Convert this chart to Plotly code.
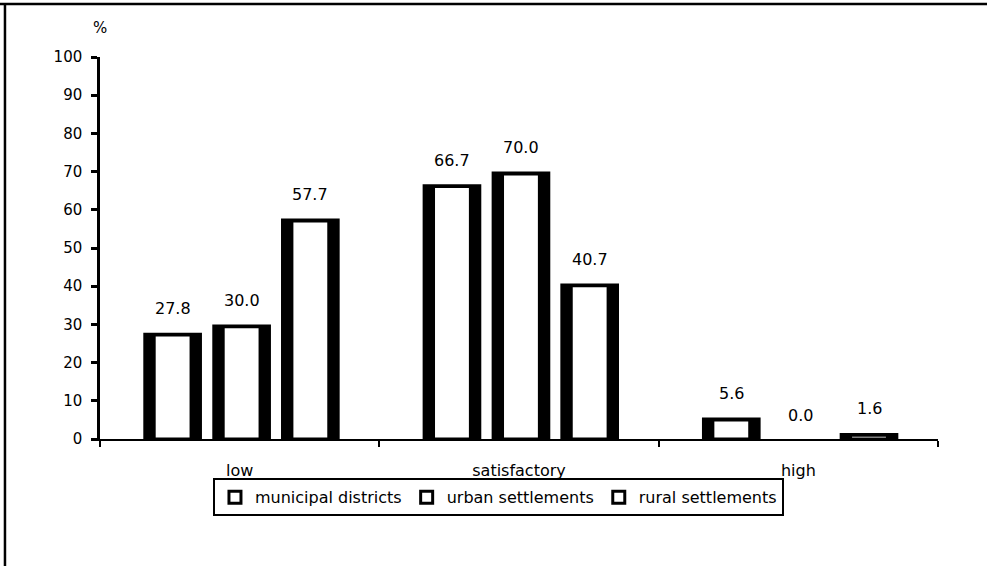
import plotly.graph_objects as go

categories = ["low", "satisfactory", "high"]
series_names = ["municipal districts", "urban settlements", "rural settlements"]
municipal = [27.8, 66.7, 5.6]
urban = [30.0, 70.0, 0.0]
rural = [57.7, 40.7, 1.6]
values = [municipal, urban, rural]
y_ticks = list(range(0, 101, 10))

FONT = "DejaVu Sans"
W = 0.21            # bar width in category units
offsets = [-0.345, -0.098, 0.148]
side = 0.039        # black side thickness (category units)
top = 0.6           # black top thickness (value units)
cat_px = 838 / 3.0

fig = go.Figure()
for i, (name, vals) in enumerate(zip(series_names, values)):
    fig.add_trace(go.Bar(
        x=categories, y=vals, name=name, showlegend=False,
        width=W, offset=offsets[i],
        marker=dict(color="black", line=dict(width=0)),
        hoverinfo="skip",
    ))
    inner = [v - top if v > top else None for v in vals]
    fig.add_trace(go.Bar(
        x=categories, y=inner, name=name, showlegend=True,
        width=W - 2 * side, offset=offsets[i] + side,
        marker=dict(color="white", line=dict(width=3, color="black")),
    ))

annotations = []
for i, vals in enumerate(values):
    for c, v in zip(categories, vals):
        annotations.append(dict(
            x=c, y=v, xref="x", yref="y", text=f"{v:.1f}", showarrow=False,
            xshift=(offsets[i] + W / 2) * cat_px, yshift=24, yanchor="middle",
            font=dict(family=FONT, size=16, color="black"),
        ))
annotations.append(dict(
    x=0.0, y=1.076, xref="paper", yref="paper", text="%", showarrow=False,
    xanchor="center", yanchor="middle", font=dict(family=FONT, size=15, color="black"),
))

fig.update_layout(
    width=987, height=566,
    margin=dict(l=100, r=49, t=57, b=127),
    paper_bgcolor="white", plot_bgcolor="white",
    barmode="overlay",
    font=dict(family=FONT, color="black"),
    annotations=annotations,
    legend=dict(
        orientation="h", x=0.4755, xanchor="center", y=-0.103, yanchor="top",
        bordercolor="black", borderwidth=2,
        font=dict(family=FONT, size=16, color="black"),
        itemclick=False, traceorder="normal",
    ),
    shapes=[
        dict(type="line", xref="paper", yref="paper", x0=-0.125, x1=1.07,
             y0=1.1387, y1=1.1387, line=dict(color="black", width=2.5)),
        dict(type="line", xref="paper", yref="paper", x0=-0.1134, x1=-0.1134,
             y0=1.1387, y1=-0.34, line=dict(color="black", width=2.5)),
    ],
)
fig.update_xaxes(
    type="category", categoryorder="array", categoryarray=categories,
    tickson="boundaries", ticks="outside", ticklen=6, tickwidth=1.5, tickcolor="black",
    showline=True, linecolor="black", linewidth=1.5, showgrid=False,
    tickfont=dict(family=FONT, size=16, color="black"), ticklabelstandoff=16,
)
fig.update_yaxes(
    range=[0, 100], tickvals=y_ticks, ticks="outside", ticklen=6, tickwidth=2.5,
    tickcolor="black", showline=True, linecolor="black", linewidth=2.5,
    showgrid=False, zeroline=False,
    tickfont=dict(family=FONT, size=15, color="black"), ticklabelstandoff=6,
)

fig.write_html(
    "out.html",
    config={"displayModeBar": False},
    post_script="document.body.style.margin='0';document.body.style.overflow='hidden';",
)
